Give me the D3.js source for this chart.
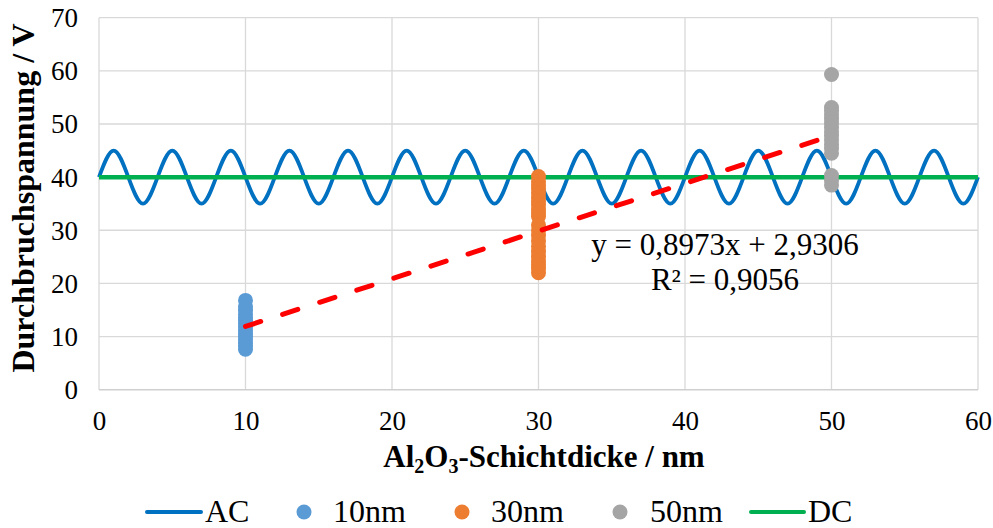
<!DOCTYPE html>
<html>
<head>
<meta charset="utf-8">
<script src="https://cdn.jsdelivr.net/npm/d3@7"></script>
<style>
  html, body { margin: 0; padding: 0; background: #fff; }
  svg { display: block; font-family: "Liberation Serif", "Times New Roman", serif; }
</style>
</head>
<body>
<svg id="chart" width="993" height="528"></svg>
<script>
// ---------- data ----------
const xTicks = [0, 10, 20, 30, 40, 50, 60];
const yTicks = [0, 10, 20, 30, 40, 50, 60, 70];

// AC reference curve, sampled every 1 nm from 0 to 60
const acX = d3.range(0, 61, 1);
const acValues = [
  40,45,40,35,40,45,40,35,40,45,40,35,40,45,40,35,40,45,40,35,
  40,45,40,35,40,45,40,35,40,45,40,35,40,45,40,35,40,45,40,35,
  40,45,40,35,40,45,40,35,40,45,40,35,40,45,40,35,40,45,40,35,
  40
];
// DC reference line
const dcX = [0, 60];
const dcValues = [40, 40];

// breakdown voltages per layer thickness
const v10 = [16.8, 15.6, 14.9, 14.2, 13.6, 13.0, 12.4, 11.8, 11.2, 10.6, 10.0, 9.4, 8.8, 8.2, 7.6];
const v30 = [40.1, 39.2, 38.5, 37.8, 37.0, 36.2, 35.5, 34.8, 34.0, 33.3, 32.6, 31.0, 30.0, 29.0, 28.0, 27.0, 26.0, 25.0, 24.2, 23.5, 22.8, 22.0];
const v50 = [59.3, 53.1, 52.5, 51.8, 51.0, 50.2, 49.4, 48.6, 47.8, 47.0, 46.2, 45.4, 44.5, 40.3, 39.4, 38.5];

// linear trend
const slope = 0.8973, intercept = 2.9306;
const trendX = [10, 50];
const eqLine1 = "y = 0,8973x + 2,9306";
const eqLine2 = "R² = 0,9056";

const seriesNames = ["AC", "10nm", "30nm", "50nm", "DC"];
const colors = { AC: "#0070C0", "10nm": "#5B9BD5", "30nm": "#ED7D31", "50nm": "#A5A5A5", DC: "#00B050" };

// ---------- layout ----------
const svg = d3.select("#chart");
const x = d3.scaleLinear().domain([0, 60]).range([99, 978]);
const y = d3.scaleLinear().domain([0, 70]).range([389.7, 17.7]);

// gridlines
svg.append("g").selectAll("line").data(yTicks.filter(d => d > 0)).join("line")
  .attr("x1", x(0)).attr("x2", x(60))
  .attr("y1", d => y(d)).attr("y2", d => y(d))
  .attr("stroke", "#d9d9d9").attr("stroke-width", 1.3);
svg.append("g").selectAll("line").data(xTicks).join("line")
  .attr("x1", d => x(d)).attr("x2", d => x(d))
  .attr("y1", y(0)).attr("y2", y(70))
  .attr("stroke", "#d9d9d9").attr("stroke-width", 1.3);
// bottom axis line
svg.append("line").attr("x1", x(0)).attr("x2", x(60)).attr("y1", y(0)).attr("y2", y(0))
  .attr("stroke", "#cfcfcf").attr("stroke-width", 1.5);

// tick labels
const xAxis = d3.axisBottom(x).tickValues(xTicks).tickSize(0).tickPadding(0).tickFormat(d3.format("d"));
const gx = svg.append("g").attr("transform", `translate(0,${y(0)})`).call(xAxis);
gx.select(".domain").remove();
gx.selectAll("text").attr("font-family", "Liberation Serif").attr("font-size", 27)
  .attr("fill", "#000").attr("dy", null).attr("y", 40);

const yAxis = d3.axisLeft(y).tickValues(yTicks).tickSize(0).tickPadding(0).tickFormat(d3.format("d"));
const gy = svg.append("g").attr("transform", `translate(78,0)`).call(yAxis);
gy.select(".domain").remove();
gy.selectAll("text").attr("font-family", "Liberation Serif").attr("font-size", 27)
  .attr("fill", "#000").attr("dy", "0.33em").attr("x", 0);

// AC curve
const acLine = d3.line().x(d => x(d[0])).y(d => y(d[1])).curve(d3.curveNatural);
svg.append("path").datum(acX.map((v, i) => [v, acValues[i]]))
  .attr("d", acLine).attr("fill", "none").attr("stroke", colors.AC).attr("stroke-width", 3.8);

// DC line
const straight = d3.line().x(d => x(d[0])).y(d => y(d[1]));
svg.append("path").datum(dcX.map((v, i) => [v, dcValues[i]]))
  .attr("d", straight).attr("fill", "none").attr("stroke", colors.DC).attr("stroke-width", 4.5);

// scatter
const groups = [[10, v10, colors["10nm"]], [30, v30, colors["30nm"]], [50, v50, colors["50nm"]]];
groups.forEach(([xv, vals, col]) => {
  svg.append("g").selectAll("circle").data(vals).join("circle")
    .attr("cx", x(xv)).attr("cy", d => y(d)).attr("r", 7.5).attr("fill", col);
});

// trend line
svg.append("path").datum(trendX.map(v => [v, slope * v + intercept]))
  .attr("d", straight).attr("fill", "none").attr("stroke", "#FF0000")
  .attr("stroke-width", 5).attr("stroke-dasharray", "16,23").attr("stroke-linecap", "round");

// equation
svg.append("text").attr("x", 725).attr("y", 255).attr("text-anchor", "middle")
  .attr("font-size", 31).attr("fill", "#000").text(eqLine1);
svg.append("text").attr("x", 725).attr("y", 290).attr("text-anchor", "middle")
  .attr("font-size", 31).attr("fill", "#000").text(eqLine2);

// axis titles
const xt = svg.append("text").attr("x", 544).attr("y", 467).attr("text-anchor", "middle")
  .attr("font-size", 31).attr("font-weight", "bold").attr("fill", "#000");
xt.append("tspan").text("Al");
xt.append("tspan").attr("font-size", 20).attr("dy", 6).text("2");
xt.append("tspan").attr("dy", -6).text("O");
xt.append("tspan").attr("font-size", 20).attr("dy", 6).text("3");
xt.append("tspan").attr("dy", -6).text("-Schichtdicke / nm");

svg.append("text").attr("transform", "translate(34,198) rotate(-90)").attr("text-anchor", "middle")
  .attr("font-size", 32).attr("font-weight", "bold").attr("fill", "#000")
  .text("Durchbruchspannung / V");

// legend
const legendY = 512;
const legendItems = [
  { name: seriesNames[0], type: "line", x0: 147, x1: 201, tx: 205 },
  { name: seriesNames[1], type: "dot", cx: 304, tx: 333 },
  { name: seriesNames[2], type: "dot", cx: 462, tx: 491 },
  { name: seriesNames[3], type: "dot", cx: 620, tx: 650 },
  { name: seriesNames[4], type: "line", x0: 751, x1: 804, tx: 808 }
];
const lg = svg.append("g");
legendItems.forEach(it => {
  if (it.type === "line") {
    lg.append("line").attr("x1", it.x0).attr("x2", it.x1).attr("y1", legendY).attr("y2", legendY)
      .attr("stroke", colors[it.name]).attr("stroke-width", 4).attr("stroke-linecap", "round");
  } else {
    lg.append("circle").attr("cx", it.cx).attr("cy", legendY).attr("r", 7.5).attr("fill", colors[it.name]);
  }
  lg.append("text").attr("x", it.tx).attr("y", 522).attr("font-size", 32).attr("fill", "#000").text(it.name);
});
</script>
</body>
</html>
